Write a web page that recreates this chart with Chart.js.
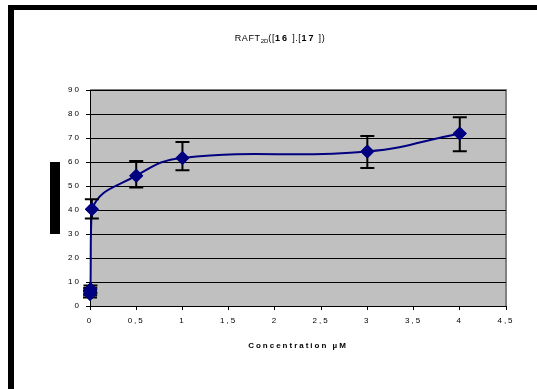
<!DOCTYPE html>
<html>
<head>
<meta charset="utf-8">
<script src="https://cdn.jsdelivr.net/npm/chart.js@4/dist/chart.umd.min.js"></script>
<style>
    html, body { margin: 0; padding: 0; background: #fff; }
    #wrap { position: relative; width: 537px; height: 389px; overflow: hidden; }
    #frameTop { position: absolute; left: 8px; top: 5px; width: 529px; height: 5px; background: #000; }
    #frameLeft { position: absolute; left: 8px; top: 5px; width: 6px; height: 384px; background: #000; }
    #block { position: absolute; left: 50px; top: 162px; width: 10px; height: 72px; background: #000; }
    #title { position: absolute; left: 180px; width: 200px; top: 33px; text-align: center;
             font: 9px "Liberation Sans", Arial, sans-serif; color: #000; white-space: pre;
             letter-spacing: 0.6px; }
    #title sub { font-size: 6px; vertical-align: -2px; letter-spacing: 0; }
    #title b { letter-spacing: 2px; }
    canvas { position: absolute; left: 0; top: 0; }
</style>
</head>
<body>
<div id="wrap">
    <canvas id="raft-chart" width="537" height="389"></canvas>
    <div id="frameTop"></div>
    <div id="frameLeft"></div>
    <div id="block"></div>
    <div id="title">RAFT<sub>2D</sub>([<b>16</b> ].[<b>17</b> ])</div>
</div>
<script>
// concentration (µM) and measured values
var concentrations = [0, 0.002, 0.005, 0.02, 0.5, 1, 3, 4];
var values = [5, 6, 7, 40.3, 54.3, 61.7, 64.4, 71.9];
var errLow = [3.5, 4.5, 5.5, 36.5, 49.4, 56.6, 57.5, 64.5];
var errHigh = [6.5, 7.5, 8.5, 44.5, 60.4, 68.3, 70.8, 78.6];
var xTicks = ['0', '0,5', '1', '1,5', '2', '2,5', '3', '3,5', '4', '4,5'];

var points = concentrations.map(function (x, i) {
    return { x: x, y: values[i] };
});

var plotBackground = {
    id: 'plotBackground',
    beforeDraw: function (chart) {
        var a = chart.chartArea, ctx = chart.ctx;
        ctx.save();
        ctx.fillStyle = '#c0c0c0';
        ctx.fillRect(a.left, a.top, a.right - a.left, a.bottom - a.top);
        ctx.strokeStyle = '#808080';
        ctx.lineWidth = 2;
        ctx.beginPath();
        ctx.moveTo(a.left, a.top);
        ctx.lineTo(a.right, a.top);
        ctx.lineTo(a.right, a.bottom);
        ctx.stroke();
        ctx.restore();
        ctx.letterSpacing = '2px';
    }
};

var errorBars = {
    id: 'errorBars',
    afterDatasetsDraw: function (chart) {
        var ctx = chart.ctx, xs = chart.scales.x, ys = chart.scales.y;
        ctx.save();
        ctx.strokeStyle = '#000';
        ctx.lineWidth = 2;
        concentrations.forEach(function (c, i) {
            var px = xs.getPixelForValue(c);
            var lo = ys.getPixelForValue(errLow[i]);
            var hi = ys.getPixelForValue(errHigh[i]);
            ctx.beginPath();
            ctx.moveTo(px, lo); ctx.lineTo(px, hi);
            ctx.moveTo(px - 7, lo); ctx.lineTo(px + 7, lo);
            ctx.moveTo(px - 7, hi); ctx.lineTo(px + 7, hi);
            ctx.stroke();
        });
        ctx.restore();
        // redraw markers on top of the bars
        chart.getDatasetMeta(0).data.forEach(function (el) {
            el.draw(ctx, chart.chartArea);
        });
    }
};

function drawRaftChart() {
    var ctx = document.getElementById('raft-chart');

    new Chart(ctx, {
        type: 'scatter',
        data: {
            datasets: [{
                data: points,
                showLine: true,
                tension: 0.45,
                borderColor: '#000080',
                borderWidth: 2,
                backgroundColor: '#000080',
                pointStyle: 'rectRot',
                pointRadius: 7,
                pointBorderWidth: 0,
                clip: false
            }]
        },
        options: {
            responsive: false,
            animation: false,
            events: [],
            layout: { padding: { left: 0, right: 31, top: 90, bottom: 0 } },
            plugins: {
                legend: { display: false },
                title: { display: false },
                tooltip: { enabled: false }
            },
            scales: {
                x: {
                    type: 'linear',
                    min: 0,
                    max: 4.5,
                    afterFit: function (s) { s.height = 83; },
                    afterBuildTicks: function (s) {
                        s.ticks = xTicks.map(function (t, i) { return { value: i * 0.5 }; });
                    },
                    grid: { drawOnChartArea: false, tickLength: 4, tickColor: '#000', tickWidth: 1 },
                    border: { color: '#000', width: 1 },
                    ticks: {
                        padding: 6,
                        maxRotation: 0,
                        autoSkip: false,
                        color: '#000',
                        font: { family: 'Liberation Sans, Arial, sans-serif', size: 8 },
                        callback: function (v, i) { return xTicks[i]; }
                    },
                    title: {
                        display: true,
                        text: 'Concentration µM',
                        color: '#000',
                        font: { family: 'Liberation Sans, Arial, sans-serif', size: 8, weight: 'bold' },
                        padding: { top: 0, bottom: 38 }
                    }
                },
                y: {
                    min: 0,
                    max: 90,
                    afterFit: function (s) { s.width = 90; },
                    grid: { color: '#000', lineWidth: 1, tickLength: 4, tickColor: '#000' },
                    border: { color: '#000', width: 1 },
                    ticks: {
                        stepSize: 10,
                        padding: 5,
                        color: '#000',
                        font: { family: 'Liberation Sans, Arial, sans-serif', size: 8 }
                    }
                }
            }
        },
        plugins: [plotBackground, errorBars]
    });
}

drawRaftChart();
</script>
</body>
</html>
